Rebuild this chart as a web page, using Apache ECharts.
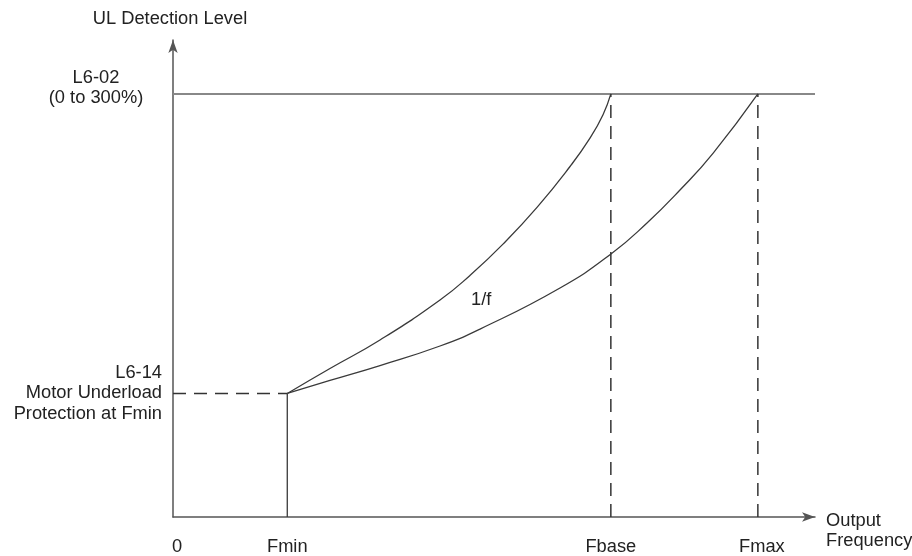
<!DOCTYPE html>
<html>
<head>
<meta charset="utf-8">
<script src="https://cdn.jsdelivr.net/npm/echarts@6/dist/echarts.min.js"></script>
<style>html,body{margin:0;padding:0;background:#fff}#c{width:912px;height:556px}</style>
</head>
<body>
<div id="c"></div>
<script>
// ---- data ----
var xTickValues = [0, 17.8, 68.2, 91.1];
var xTickLabels = ['0', 'Fmin', 'Fbase', 'Fmax'];
var fmin = 17.8, fbase = 68.2, fmax = 91.1;
var levelL602 = 88.7;   // L6-02 upper level
var levelL614 = 25.9;   // L6-14 level at Fmin
// curve to Fbase (1/f)
var curveBaseX = [17.8, 24.45, 32.24, 41.59, 46.26, 51.40, 56.70, 61.84, 64.95, 66.98, 68.2];
var curveBaseY = [25.9, 31.13, 37.11, 45.49, 50.65, 57.21, 64.91, 73.48, 79.43, 84.34, 88.7];
// curve to Fmax
var curveMaxX = [17.8, 24.45, 32.24, 41.59, 47.82, 60.28, 68.22, 73.83, 78.97, 84.11, 91.1];
var curveMaxY = [25.9, 28.62, 31.76, 35.85, 39.40, 48.01, 55.14, 61.64, 68.55, 76.25, 88.7];
var yLabelL602 = ['L6-02', '(0 to 300%)'];
var yLabelL614 = ['L6-14', 'Motor Underload', 'Protection at Fmin'];
var yAxisTitle = 'UL Detection Level';
var xAxisTitle = ['Output', 'Frequency'];
var curveLabel = '1/f';
var curveLabelPos = [48, 45.5];

function zip(a, b) { return a.map(function (v, i) { return [v, b[i]]; }); }

var FONT = '"Liberation Sans", Arial, sans-serif';
var FS = 18.3;
var chart = echarts.init(document.getElementById('c'));
var dark = '#3a3a3a';
var dashStyle = { color: '#333', width: 1.5, type: [13, 8] };

chart.setOption({
  animation: false,
  backgroundColor: '#fff',
  grid: { left: 173, right: 97, top: 40, bottom: 39 },
  xAxis: {
    type: 'value', min: 0, max: 100,
    splitLine: { show: false },
    axisLine: { show: true, lineStyle: { color: '#555', width: 1.5 }, symbol: ['none', 'arrow'], symbolSize: [7, 13] },
    axisTick: { show: false },
    axisLabel: {
      customValues: xTickValues,
      formatter: function (v) {
        var i = xTickValues.indexOf(v);
        if (i < 0) return '';
        return (i === 0 || i === 3) ? '{s|' + xTickLabels[i] + '}' : xTickLabels[i];
      },
      rich: { s: { padding: [0, 0, 0, 8], fontSize: FS, fontFamily: FONT, color: '#222' } },
      margin: 21, color: '#222', fontSize: FS, fontFamily: FONT
    }
  },
  yAxis: {
    type: 'value', min: 0, max: 100,
    splitLine: { show: false },
    axisLine: { show: true, lineStyle: { color: '#555', width: 1.5 }, symbol: ['none', 'arrow'], symbolSize: [7, 13] },
    axisTick: { show: false },
    axisLabel: { show: false }
  },
  series: [
    { type: 'line', data: [[0, levelL602], [100, levelL602]], symbol: 'none', lineStyle: { color: '#888', width: 2 } },
    { type: 'line', data: [[0, levelL614], [fmin, levelL614]], symbol: 'none', lineStyle: dashStyle },
    { type: 'line', data: [[fmin, 0], [fmin, levelL614]], symbol: 'none', lineStyle: { color: dark, width: 1.3 } },
    { type: 'line', data: [[fbase, 0], [fbase, levelL602]], symbol: 'none', lineStyle: dashStyle },
    { type: 'line', data: [[fmax, 0], [fmax, levelL602]], symbol: 'none', lineStyle: dashStyle },
    { type: 'line', data: zip(curveBaseX, curveBaseY), smooth: 0.5, symbol: 'none', lineStyle: { color: dark, width: 1.3 } },
    { type: 'line', data: zip(curveMaxX, curveMaxY), smooth: 0.5, symbol: 'none', lineStyle: { color: dark, width: 1.3 } }
  ]
});

function px(p) { return chart.convertToPixel({ gridIndex: 0 }, p); }
function txt(pt, dx, dy, text, align) {
  return {
    type: 'text', x: pt[0] + dx, y: pt[1] + dy, z: 100,
    style: { text: text, fill: '#222', font: FS + 'px ' + FONT, align: align, verticalAlign: 'middle', lineHeight: 20.5 }
  };
}
var g = [];
g.push(txt(px([0, 100]), -3, -21, yAxisTitle, 'center'));
g.push(txt(px([0, levelL602]), -77, -6, yLabelL602.join('\n'), 'center'));
g.push(txt(px([0, levelL614]), -11, 0, yLabelL614.join('\n'), 'right'));
g.push(txt(px([100, 0]), 11, 14, xAxisTitle.join('\n'), 'left'));
g.push(txt(px(curveLabelPos), 0, 0, curveLabel, 'center'));
chart.setOption({ graphic: g });
</script>
</body>
</html>
